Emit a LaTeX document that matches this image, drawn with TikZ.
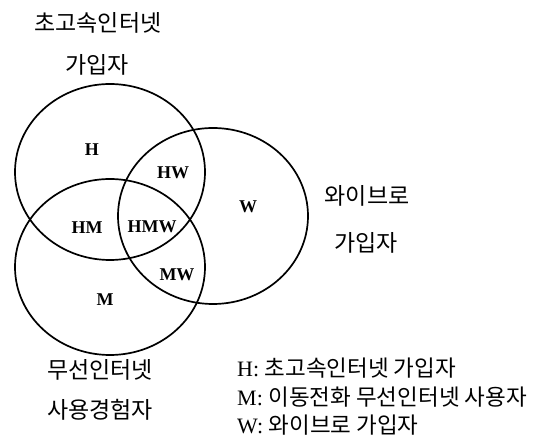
\documentclass[tikz,border=0pt]{standalone}
\usepackage{fontspec}
\setmainfont{Liberation Serif}
\newfontfamily\kr{Noto Sans CJK KR}
\usepackage{tikz}
\usetikzlibrary{positioning}

\tikzset{
  venn/.style={black, line width=1.7pt},
  grouplab/.style={font=\kr\fontsize{23}{24}\selectfont, inner sep=0pt},
  setlab/.style={font=\bfseries\fontsize{18}{19}\selectfont, inner sep=0pt},
  keylab/.style={anchor=west, font=\fontsize{22}{23}\selectfont, inner sep=0pt}
}
\newcommand{\keykr}[1]{{\kr\fontsize{22.5}{23}\selectfont #1}}

\begin{document}
\begin{tikzpicture}[x=1pt,y=-1pt]
\useasboundingbox (0,0) rectangle (558,438);

\begin{scope}[xshift=0]
%%%%%%%%%%%%    three sets   %%%%%%%%%%%%

\coordinate (hcen) at (110,172);
\coordinate (mcen) at (110,267);
\coordinate (wcen) at (213,216);

\draw[venn] (hcen) ellipse [x radius=95pt, y radius=88pt];
\draw[venn] (mcen) ellipse [x radius=95pt, y radius=88pt];
\draw[venn] (wcen) ellipse [x radius=95pt, y radius=88pt];

% regions
{
\node[setlab] (h) at (92,150) {H};
\node[setlab] (hw) at (173,173) {HW};
\node[setlab] (w) at (248,207) {W};
\node[setlab] (hm) at (87,228) {HM};
\node[setlab] (hmw) at (152,227) {HMW};
\node[setlab] (mw) at (177,275) {MW};
\node[setlab] (m) at (105,300) {M};
}

% labeling
{
\node[grouplab] (htitle) at (98,23) {초고속인터넷};
\node[grouplab] (hsub) at (97,65) {가입자};

\node[grouplab] (wtitle) at (367,196) {와이브로};
\node[grouplab] (wsub) at (366,243) {가입자};

\node[grouplab] (mtitle) at (100,370) {무선인터넷};
\node[grouplab] (msub) at (100,410) {사용경험자};
}

% key
{
\node[keylab] (hkey) at (237,368) {H: \keykr{초고속인터넷 가입자}};
\node[keylab] (mkey) at (237,397) {M: \keykr{이동전화 무선인터넷 사용자}};
\node[keylab] (wkey) at (237,425) {W: \keykr{와이브로 가입자}};
}
\end{scope}

\end{tikzpicture}
\end{document}
